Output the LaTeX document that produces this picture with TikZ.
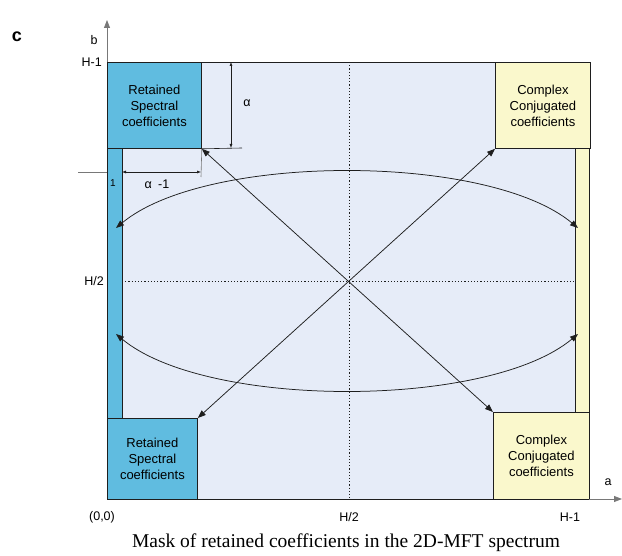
\documentclass[tikz,border=0pt]{standalone}
\usepackage{fontspec}
\setmainfont{Liberation Sans}
\newfontfamily\capfont{Liberation Serif}
\usetikzlibrary{arrows.meta}
\definecolor{blueF}{RGB}{96,188,224}
\definecolor{yellowF}{RGB}{250,248,204}
\definecolor{bgF}{RGB}{230,236,248}
\definecolor{lineC}{RGB}{30,30,30}
\definecolor{axisC}{RGB}{120,120,120}
\begin{document}
\begin{tikzpicture}[x=1pt,y=-1pt,
  box/.style={draw=lineC, line width=0.8pt, inner sep=0pt, align=center,
    font=\fontsize{13}{16}\selectfont, anchor=north west},
  retained/.style={box, fill=blueF},
  conj/.style={box, fill=yellowF},
  arr/.style={draw=lineC, line width=0.75pt, {Triangle[length=8pt,width=6pt]}-{Triangle[length=8pt,width=6pt]}},
  dim/.style={draw=lineC, line width=0.5pt, {Latex[length=4pt,width=3pt]}-{Latex[length=4pt,width=3pt]}},
  axis/.style={draw=axisC, line width=0.8pt, -{Triangle[length=8pt,width=6pt]}},
  lbl/.style={font=\fontsize{12.5}{15}\selectfont, inner sep=0pt},
  dots/.style={draw=lineC, line width=0.6pt, dash pattern=on 1.2pt off 2pt}
]
\useasboundingbox (0,0) rectangle (622,556);
% background frame
\node[box, fill=bgF, minimum width=482pt, minimum height=437pt] (frame) at (107,62) {};
% dotted centre lines
\coordinate (vt) at (349,62);
\coordinate (vb) at (349,499);
\coordinate (hl) at (122,281);
\coordinate (hr) at (575,281);
\draw[dots] (vt) -- (vb);
\draw[dots] (hl) -- (hr);
% strips
\node[retained, minimum width=15pt, minimum height=270pt] (ls) at (107,148) {};
\node[conj, minimum width=14pt, minimum height=264pt] (rs) at (575,148) {};
% corner boxes
\node[retained, minimum width=94pt, minimum height=86pt] (tl) at (107,62) {Retained\\Spectral\\coefficients};
\node[retained, minimum width=90pt, minimum height=81pt] (bl) at (107,418) {Retained\\Spectral\\coefficients};
\node[conj, minimum width=95pt, minimum height=86pt] (tr) at (495,62) {Complex\\Conjugated\\coefficients};
\node[conj, minimum width=96pt, minimum height=87pt] (br) at (493,412) {Complex\\Conjugated\\coefficients};
% axes
\coordinate (bt) at (107,20);
\coordinate (ar) at (622,499);
\draw[axis] (107,62) -- (bt);
\draw[axis] (589,499) -- (ar);
\draw[draw=lineC, line width=1pt] (107,62) -- (107,499) -- (589,499);
% diagonal arrows
\draw[arr] (tl.south east) -- (br.north west);
\draw[arr] (bl.north east) -- (tr.south west);
% arcs
\coordinate (ua) at (116,228);
\coordinate (ub) at (578,228);
\coordinate (la) at (116,334);
\coordinate (lb) at (578,334);
\draw[arr] (ua) .. controls (206,153) and (488,153) .. (ub);
\draw[arr] (la) .. controls (206,409) and (488,409) .. (lb);
% dimension alpha
\coordinate (ext1) at (242,148);
\coordinate (d1t) at (231,62);
\coordinate (d1b) at (231,148);
\draw[draw=lineC, line width=0.6pt] (tl.south east) -- (ext1);
\draw[dim] (d1t) -- (d1b);
\node[lbl] (alab) at (247,103) {α};
% dimension alpha-1
\coordinate (ext2) at (201,177);
\coordinate (d2l) at (122,172);
\coordinate (d2r) at (201,172);
\coordinate (tk) at (78,172);
\draw[draw=axisC, line width=0.6pt] (tl.south east) -- (ext2);
\draw[draw=axisC, line width=0.6pt] (tk) -- (107,172);
\draw[dim] (d2l) -- (d2r);
\node[lbl] (a1lab) at (157,184) {α\enspace-1};
\node[font=\fontsize{10}{12}\selectfont, inner sep=0pt] (one) at (113,183) {1};
% labels
\node[font=\bfseries\fontsize{18}{20}\selectfont, inner sep=0pt] (c) at (17,37) {c};
\node[lbl] (b) at (94,40) {b};
\node[lbl, anchor=east] (hm1) at (102,62) {H-1};
\node[lbl, anchor=east] (h2) at (104,281) {H/2};
\node[lbl] (o) at (102,517) {(0,0)};
\node[lbl] (h2x) at (349,517) {H/2};
\node[lbl] (hx) at (570,517) {H-1};
\node[lbl] (a) at (608,482) {a};
\node[font=\capfont\fontsize{19.5}{22}\selectfont, inner sep=0pt] (cap) at (346,543) {Mask of retained coefficients in the 2D-MFT spectrum};
\end{tikzpicture}
\end{document}
